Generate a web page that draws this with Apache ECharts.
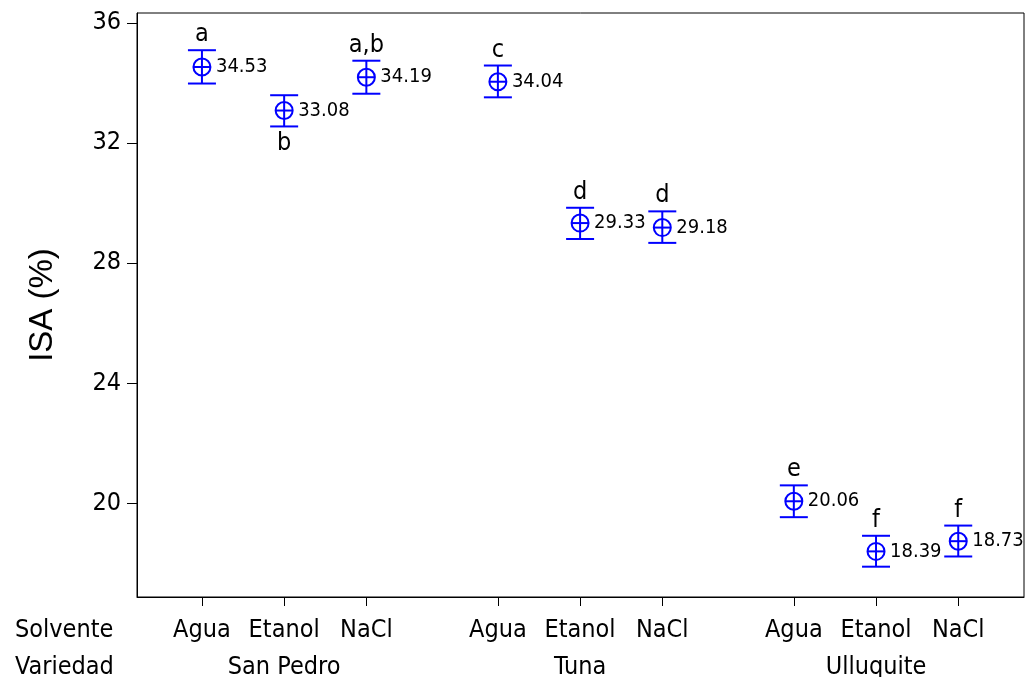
<!DOCTYPE html>
<html>
<head>
<meta charset="utf-8">
<script src="https://cdn.jsdelivr.net/npm/echarts@6/dist/echarts.min.js"></script>
<style>
  html, body { margin: 0; padding: 0; background: #fff; }
  #chart { width: 1034px; height: 677px; }
</style>
</head>
<body>
<div id="chart"></div>
<script>
// ---- data ----
const solventes = ['Agua', 'Etanol', 'NaCl'];
const variedades = ['San Pedro', 'Tuna', 'Ulluquite'];
const medias = [34.53, 33.08, 34.19, 34.04, 29.33, 29.18, 20.06, 18.39, 18.73];
const limInf = [33.98, 32.55, 33.64, 33.52, 28.80, 28.67, 19.53, 17.88, 18.22];
const limSup = [35.09, 33.59, 34.74, 34.58, 29.84, 29.72, 20.59, 18.91, 19.25];
const letras = ['a', 'b', 'a,b', 'c', 'd', 'd', 'e', 'f', 'f'];
const letraAbajo = [false, true, false, false, false, false, false, false, false];
const yTicks = [20, 24, 28, 32, 36];

// ---- layout helpers ----
const GAP = 3.6; // group spacing in x units
function pos(i) { return Math.floor(i / 3) * GAP + (i % 3); }
const posiciones = medias.map((_, i) => pos(i));
const centrosGrupo = variedades.map((_, g) => g * GAP + 1);

const FONT = 'Tahoma, "DejaVu Sans Condensed", "DejaVu Sans", sans-serif';
const BLUE = '#0000ff';

const data = medias.map((m, i) => [posiciones[i], m, limInf[i], limSup[i], i]);

const chart = echarts.init(document.getElementById('chart'), null, { renderer: 'canvas' });

chart.setOption({
  animation: false,
  backgroundColor: '#fff',
  grid: { left: 137, right: 10, top: 13, bottom: 80, outerBoundsMode: 'none', containLabel: false,
          show: true, borderColor: '#000', borderWidth: 1 },
  xAxis: [
    {
      type: 'value', min: -0.79, max: 10,
      axisLine: { show: true, onZero: false, lineStyle: { color: '#000', width: 1 } },
      axisTick: { show: true, customValues: posiciones, length: 9, lineStyle: { color: '#000' } },
      axisLabel: {
        customValues: posiciones, margin: 21, color: '#000', fontSize: 25, fontFamily: FONT,
        formatter: v => {
          const i = posiciones.findIndex(p => Math.abs(p - v) < 0.01);
          return i >= 0 ? solventes[i % 3] : '';
        }
      },
      splitLine: { show: false }
    },
    {
      type: 'value', min: -0.79, max: 10, position: 'bottom', offset: 37,
      axisLine: { show: false, onZero: false }, axisTick: { show: false },
      axisLabel: {
        customValues: centrosGrupo, margin: 21, color: '#000', fontSize: 25, fontFamily: FONT,
        formatter: v => {
          const g = centrosGrupo.findIndex(p => Math.abs(p - v) < 0.01);
          return g >= 0 ? variedades[g] : '';
        }
      },
      splitLine: { show: false }
    }
  ],
  yAxis: {
    type: 'value', min: 16.87, max: 36.33,
    name: 'ISA (%)', nameLocation: 'middle', nameGap: 78,
    nameTextStyle: { fontSize: 33, color: '#000', fontFamily: '"Liberation Sans", Arial, sans-serif' },
    axisLine: { show: true, onZero: false, lineStyle: { color: '#000', width: 1 } },
    axisTick: { show: true, customValues: yTicks, length: 10, lineStyle: { color: '#000' } },
    axisLabel: { customValues: yTicks, margin: 16, color: '#000', fontSize: 25, fontFamily: FONT },
    splitLine: { show: false }
  },
  graphic: [
    { type: 'text', left: 15, top: 618, style: { text: 'Solvente', fontSize: 25, fontFamily: FONT, fill: '#000' } },
    { type: 'text', left: 15, top: 655, style: { text: 'Variedad', fontSize: 25, fontFamily: FONT, fill: '#000' } }
  ],
  series: [{
    type: 'custom',
    xAxisIndex: 0,
    data: data,
    renderItem: function (params, api) {
      const x = api.value(0), m = api.value(1), lo = api.value(2), hi = api.value(3);
      const idx = api.value(4);
      const c = api.coord([x, m]);
      const t = api.coord([x, hi]);
      const b = api.coord([x, lo]);
      const cap = 14, r = 8.5;
      const ls = { stroke: BLUE, lineWidth: 2, fill: null };
      const children = [
        { type: 'line', shape: { x1: c[0], y1: t[1], x2: c[0], y2: b[1] }, style: ls },
        { type: 'line', shape: { x1: c[0] - cap, y1: t[1], x2: c[0] + cap, y2: t[1] }, style: ls },
        { type: 'line', shape: { x1: c[0] - cap, y1: b[1], x2: c[0] + cap, y2: b[1] }, style: ls },
        { type: 'circle', shape: { cx: c[0], cy: c[1], r: r }, style: { stroke: BLUE, lineWidth: 2, fill: 'rgba(0,0,0,0)' } },
        { type: 'line', shape: { x1: c[0] - r, y1: c[1], x2: c[0] + r, y2: c[1] }, style: ls },
        { type: 'text', style: { text: medias[idx].toFixed(2), x: c[0] + 14, y: c[1], fill: '#000', fontSize: 20, fontFamily: FONT, align: 'left', verticalAlign: 'middle' } }
      ];
      if (letraAbajo[idx]) {
        children.push({ type: 'text', style: { text: letras[idx], x: c[0], y: b[1] + 5, fill: '#000', fontSize: 25, fontFamily: FONT, align: 'center', verticalAlign: 'top' } });
      } else {
        children.push({ type: 'text', style: { text: letras[idx], x: c[0], y: t[1] - 3, fill: '#000', fontSize: 25, fontFamily: FONT, align: 'center', verticalAlign: 'bottom' } });
      }
      return { type: 'group', children: children };
    }
  }]
});
</script>
</body>
</html>
